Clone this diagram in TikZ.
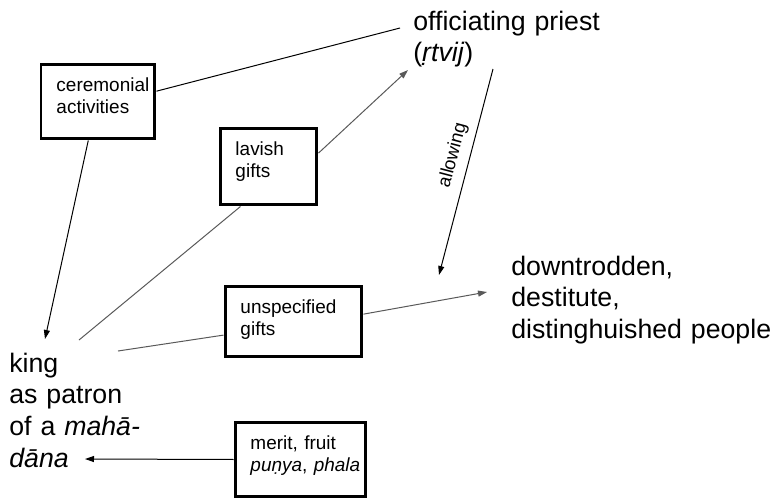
\documentclass[tikz,border=0pt]{standalone}
\usepackage{fontspec}
\setsansfont{Liberation Sans}
\usetikzlibrary{arrows.meta, calc}

\begin{document}
\begin{tikzpicture}[
    x=0.02cm, y=-0.02cm,
    font=\sffamily,
    actor/.style={
      font=\sffamily\fontsize{15.2}{18.2}\selectfont,
      align=left,
      anchor=base west,
      inner sep=0pt,
      text width=#1
    },
    giftbox/.style 2 args={
      draw,
      line width=0.06cm,
      fill=white,
      anchor=north west,
      align=left,
      font=\sffamily\fontsize{10.8}{12.6}\selectfont,
      inner xsep=0.31cm,
      inner ysep=0.27cm,
      text height=0.28cm,
      text width=#1,
      text depth=#2
    },
    link/.style={
      line width=0.02cm,
      draw=black
    },
    faint/.style={
      link,
      draw=black!65
    },
    arrow/.style={
      -{Triangle[length=0.18cm, width=0.12cm]}
    }
  ]

    \useasboundingbox (0,0) rectangle (771,498);

    % Parties of the gift
    \node[actor=4cm] (priest) at (413,30) {officiating priest\\(\emph{ṛtvij})};
    \node[actor=5.5cm] (people) at (511,275) {downtrodden,\\destitute,\\distinghuished people};
    \node[actor=3cm] (king) at (9,372) {king\\as patron\\of a \emph{mahā-}\\\emph{dāna}};

    % What passes between them
    \node[giftbox={1.66cm}{0.68cm}] (cer) at (39.5,62.5) {ceremonial\\activities};
    \node[giftbox={1.32cm}{0.72cm}] (lav) at (218.5,126.5) {lavish\\gifts};
    \node[giftbox={2.12cm}{0.60cm}] (uns) at (223.5,284.5) {unspecified\\gifts};
    \node[giftbox={2.00cm}{0.68cm}] (mer) at (233.5,420.5) {merit, fruit\\\mbox{\emph{puṇya}, \emph{phala}}};

    % Ceremonial activities link priest and king
    \draw[link] (cer.10) -- ($(priest.base west)+(-13,-2)$);
    \draw[link, arrow] (cer.256) -- ($(king.base west)+(36,-33)$);

    % King gives to the priest
    \draw[faint] ($(king.base west)+(70,-32)$) -- (lav.235);
    \draw[faint, arrow] (lav.15) -- ($(priest.base west)+(-5,40)$);

    % Priest allows the gift to the people
    \draw[link, arrow] ($(priest.base west)+(80,39)$) --
      node[pos=0.44, sloped, above=1pt, font=\sffamily\fontsize{10.5}{12}\selectfont] {allowing}
      ($(people.base west)+(-72,0)$);

    % King gives to the people
    \draw[faint] ($(king.base west)+(109,-21)$) -- (uns.191);
    \draw[faint, arrow] (uns.6) -- ($(people.base west)+(-24,17)$);

    % Merit returns to the king
    \draw[link, arrow] (mer.west) -- ($(king.base west)+(76,87)$);

  \end{tikzpicture}
\end{document}
